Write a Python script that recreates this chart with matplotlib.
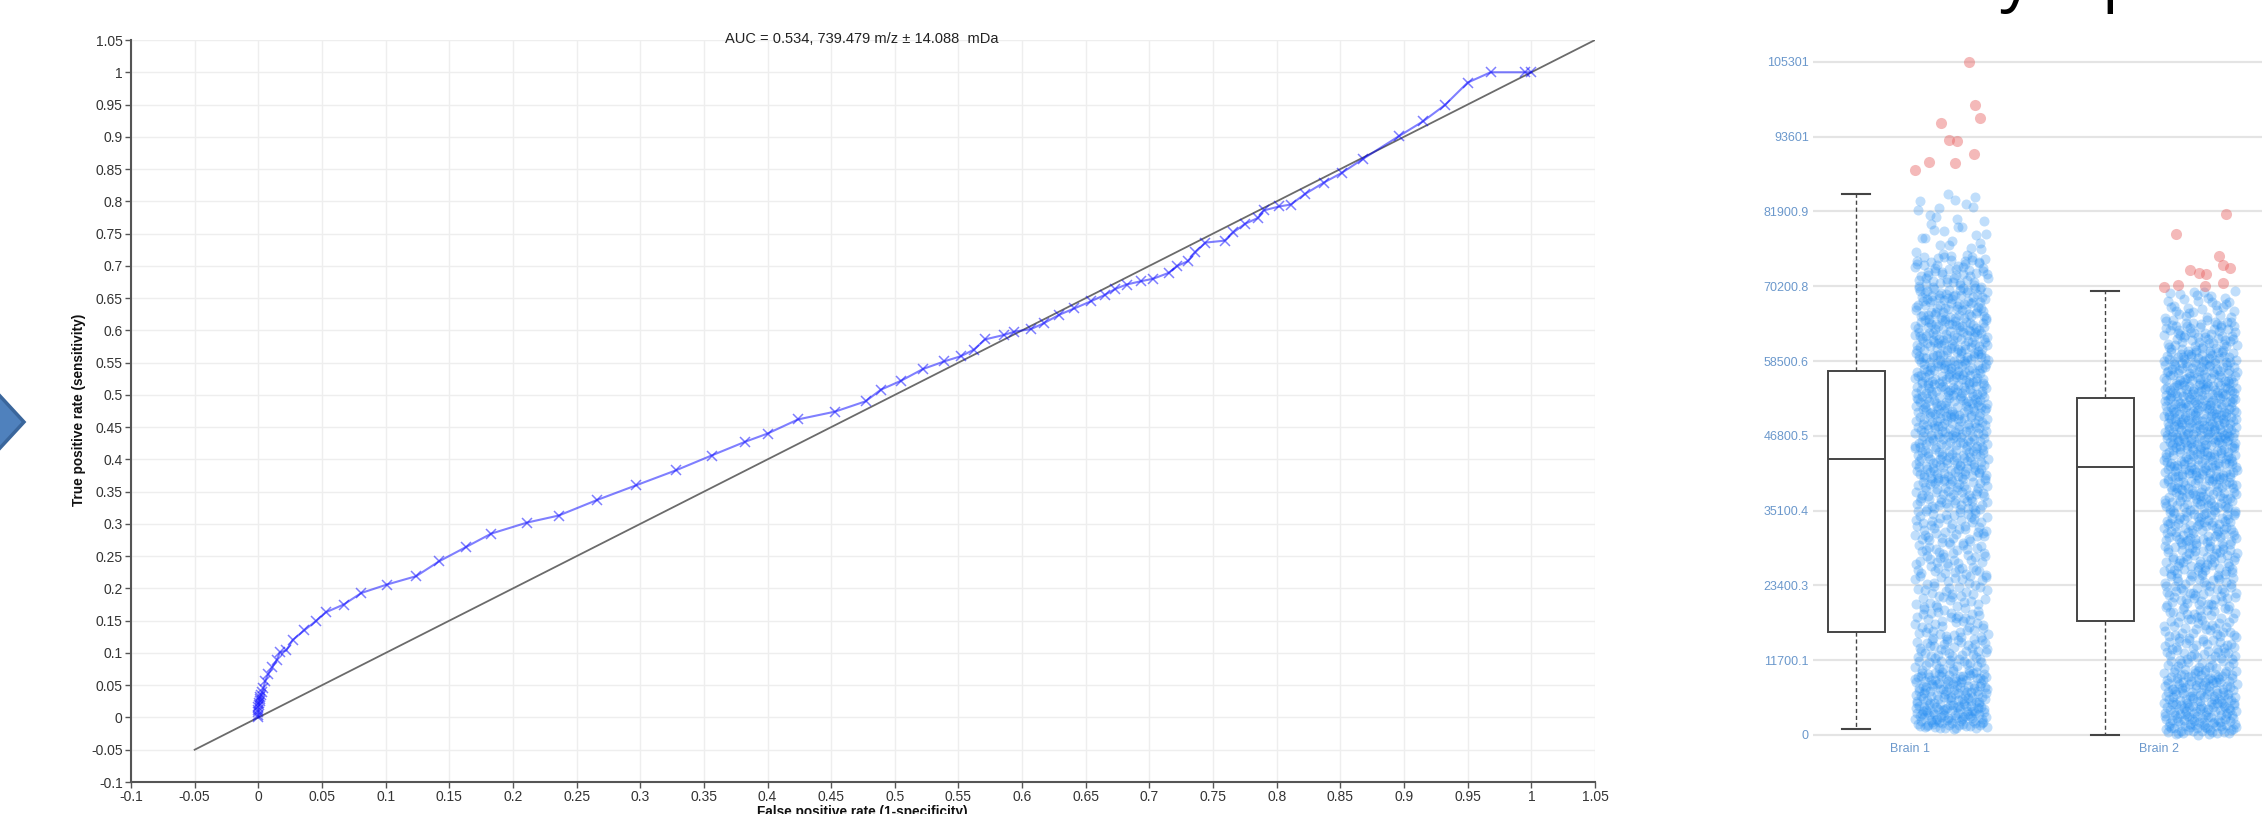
import numpy as np
import matplotlib
matplotlib.use("Agg")
import matplotlib.pyplot as plt
from matplotlib.patches import Polygon

# ---------------- data ----------------
# ROC curve (false positive rate, true positive rate)
fpr = [0, 0, 0, 0, 0, 0.0005, 0.0005, 0.001, 0.001, 0.0015, 0.002, 0.003, 0.004, 0.0055,
       0.008, 0.011, 0.0145, 0.017, 0.022, 0.027, 0.036, 0.045, 0.053, 0.067, 0.081, 0.101,
       0.124, 0.142, 0.163, 0.183, 0.211, 0.236, 0.266, 0.297, 0.328, 0.356, 0.382, 0.400,
       0.424, 0.453, 0.477, 0.489, 0.505, 0.522, 0.539, 0.552, 0.562, 0.571, 0.586, 0.594,
       0.607, 0.617, 0.629, 0.641, 0.654, 0.665, 0.673, 0.682, 0.693, 0.703, 0.715, 0.722,
       0.730, 0.736, 0.744, 0.759, 0.766, 0.775, 0.785, 0.790, 0.802, 0.811, 0.822, 0.837,
       0.851, 0.868, 0.896, 0.915, 0.932, 0.950, 0.968, 0.995, 1.0]
tpr = [0, 0.004, 0.008, 0.012, 0.016, 0.019, 0.022, 0.025, 0.028, 0.031, 0.035, 0.040, 0.046,
       0.057, 0.068, 0.078, 0.089, 0.101, 0.104, 0.120, 0.135, 0.149, 0.163, 0.175, 0.193,
       0.206, 0.219, 0.242, 0.264, 0.285, 0.302, 0.313, 0.337, 0.360, 0.383, 0.406, 0.427,
       0.440, 0.462, 0.474, 0.490, 0.508, 0.522, 0.540, 0.552, 0.560, 0.570, 0.586, 0.593,
       0.598, 0.602, 0.611, 0.624, 0.634, 0.645, 0.655, 0.664, 0.671, 0.676, 0.680, 0.689,
       0.700, 0.707, 0.721, 0.736, 0.739, 0.752, 0.765, 0.774, 0.786, 0.792, 0.795, 0.811,
       0.829, 0.844, 0.866, 0.901, 0.924, 0.949, 0.984, 1.0, 1.0, 1.0]
diag = [-0.05, 1.05]
roc_tick_labels = ['-0.1', '-0.05', '0', '0.05', '0.1', '0.15', '0.2', '0.25', '0.3', '0.35',
                   '0.4', '0.45', '0.5', '0.55', '0.6', '0.65', '0.7', '0.75', '0.8', '0.85',
                   '0.9', '0.95', '1', '1.05']
roc_title = "AUC = 0.534, 739.479 m/z \u00b1 14.088  mDa"
roc_xlabel = "False positive rate (1-specificity)"
roc_ylabel = "True positive rate (sensitivity)"

# Box plot / strip plot
categories = ['Brain 1', 'Brain 2']
box_whislo = [1000, 0]
box_q1 = [16158, 17785]
box_med = [43125, 41970]
box_q3 = [56937, 52667]
box_whishi = [84670, 69450]
int_ticks = [0, 11700.1, 23400.3, 35100.4, 46800.5, 58500.6, 70200.8, 81900.9, 93601, 105301]
int_tick_labels = ['0', '11700.1', '23400.3', '35100.4', '46800.5', '58500.6', '70200.8',
                   '81900.9', '93601', '105301']
# point density of the blue clouds: bin edges and counts per bin
b1_edges = [1000, 5000, 10000, 15000, 20000, 25000, 30000, 35000, 40000, 45000, 50000,
            55000, 60000, 65000, 70000, 75000, 80000, 85000]
b1_counts = [90, 95, 55, 45, 40, 45, 50, 65, 80, 85, 90, 90, 85, 75, 55, 18, 12]
b2_edges = [0, 5000, 10000, 15000, 20000, 25000, 30000, 35000, 40000, 45000, 50000,
            55000, 60000, 65000, 69500]
b2_counts = [100, 90, 55, 50, 55, 65, 75, 80, 95, 110, 105, 90, 65, 32]
# outliers (red)
b1_out = [105272, 98595, 96511, 95729, 93070, 92963, 90880, 89581, 89519, 88377]
b2_out = [81543, 78318, 74877, 73517, 73100, 72690, 72220, 72110, 70390, 70282, 70030, 70750]
# horizontal jitter of the outliers (positions)
b1_out_dx = [0.236, 0.259, 0.281, 0.122, 0.158, 0.190, 0.257, 0.076, 0.182, 0.018]
b2_out_dx = [0.270, 0.069, 0.239, 0.257, 0.284, 0.122, 0.159, 0.190, 0.074, 0.183, 0.018, 0.256]

# ---------------- figure ----------------
W, H = 2262, 814
fig = plt.figure(figsize=(W / 100, H / 100), dpi=100)
FONT = ['Liberation Sans', 'DejaVu Sans']


def ax_px(l, t, r, b):
    return fig.add_axes([l / W, 1 - b / H, (r - l) / W, (b - t) / H])


# left arrow shape (cut by the figure edge)
arrow = Polygon([(-12 / W, 1 - 383 / H), (24 / W, 1 - 422 / H), (-12 / W, 1 - 461 / H)],
                closed=True, transform=fig.transFigure, facecolor='#4f81bd',
                edgecolor='#3a669c', linewidth=2.5)
fig.patches.append(arrow)

# ---- ROC ----
ax = ax_px(131, 40, 1595, 782)
ticks = [float(s) for s in roc_tick_labels]
ax.set_xlim(-0.1, 1.05)
ax.set_ylim(-0.1, 1.05)
ax.set_xticks(ticks)
ax.set_yticks(ticks)
ax.set_xticklabels(roc_tick_labels, fontsize=10, family=FONT, color='#333333')
ax.set_yticklabels(roc_tick_labels, fontsize=10, family=FONT, color='#333333')
ax.grid(True, color='#eeeeee', linewidth=1.0)
ax.set_axisbelow(True)
for s in ['top', 'right']:
    ax.spines[s].set_visible(False)
for s in ['left', 'bottom']:
    ax.spines[s].set_color('#555555')
    ax.spines[s].set_linewidth(1.5)
ax.tick_params(direction='out', length=4, width=1, color='#555555', pad=2)
ax.plot(diag, diag, color='#6b6b6b', lw=1.3, zorder=2)
ax.plot(fpr, tpr, color='#0000ff', alpha=0.5, lw=1.5, marker='x', ms=7, mew=1.1, zorder=3)

fig.text(862 / W, 1 - 43 / H, roc_title, ha='center', va='baseline', fontsize=10.5,
         family=FONT, color='#222222')
fig.text(79 / W, 1 - 410 / H, roc_ylabel, ha='center', va='center', rotation=90,
         fontsize=9.8, fontweight='bold', family=FONT, color='#111111')
fig.text(862 / W, 1 - 805 / H, roc_xlabel, ha='center', va='top', fontsize=9.8,
         fontweight='bold', family=FONT, color='#111111')

# ---- box + strip plot ----
ax2 = ax_px(1813, 30, 2262, 742)
BOX_OFF = -0.217
PT_OFF = 0.165
HALF_W = 0.147

stats = []
for i in range(2):
    stats.append(dict(med=box_med[i], q1=box_q1[i], q3=box_q3[i],
                      whislo=box_whislo[i], whishi=box_whishi[i], fliers=[]))
ax2.bxp(stats, positions=[0 + BOX_OFF, 1 + BOX_OFF], widths=0.229, capwidths=0.112,
        patch_artist=True, showfliers=False, manage_ticks=False,
        boxprops=dict(facecolor='white', edgecolor='#444444', linewidth=1.4),
        medianprops=dict(color='#444444', linewidth=1.4),
        whiskerprops=dict(color='#444444', linewidth=1.0, linestyle=(0, (3, 2))),
        capprops=dict(color='#444444', linewidth=1.5), zorder=2)


def halton(i, b):
    f, r = 1.0, 0.0
    while i > 0:
        f /= b
        r += f * (i % b)
        i //= b
    return r


def cloud(cat, edges, counts, start):
    xs, ys = [], []
    k = start
    for lo, hi, n in zip(edges[:-1], edges[1:], counts):
        for _ in range(n):
            k += 1
            xs.append(cat + PT_OFF + (halton(k, 2) - 0.5) * 2 * HALF_W)
            ys.append(lo + halton(k, 3) * (hi - lo))
    return xs, ys


x1, y1 = cloud(0, b1_edges, b1_counts, 0)
x2, y2 = cloud(1, b2_edges, b2_counts, 5000)
ax2.scatter(x1 + x2, y1 + y2, s=52, color='#1f8af2', alpha=0.28, linewidths=0, zorder=3)
ax2.scatter([0 + d for d in b1_out_dx] + [1 + d for d in b2_out_dx], b1_out + b2_out,
            s=64, color='#e86464', alpha=0.45, linewidths=0, zorder=3)

ax2.set_xlim(-0.39, 1.413)
ax2.set_ylim(-1095, 110276)
for s in ax2.spines.values():
    s.set_visible(False)
ax2.set_yticks(int_ticks)
ax2.set_yticklabels(int_tick_labels, fontsize=9, family=FONT, color='#6b98cc')
ax2.set_xticks([0, 1])
ax2.set_xticklabels(categories, fontsize=9, family=FONT, color='#6b98cc')
ax2.tick_params(length=0, pad=3)
ax2.tick_params(axis='x', pad=1)
ax2.grid(True, axis='y', color='#e4e4e4', linewidth=1.6)
ax2.set_axisbelow(True)

# big heading at top right (cut by the figure edge, only descenders visible)
fig.text(2034 / W, 1 + 2 / H, "Intensity", ha='right', va='baseline', fontsize=47,
         family=['Open Sans', 'DejaVu Sans'], color='black')
fig.text(2101 / W, 1 + 2 / H, "plot", ha='left', va='baseline', fontsize=47,
         family=['Open Sans', 'DejaVu Sans'], color='black')

fig.savefig('out.png', dpi=100)
